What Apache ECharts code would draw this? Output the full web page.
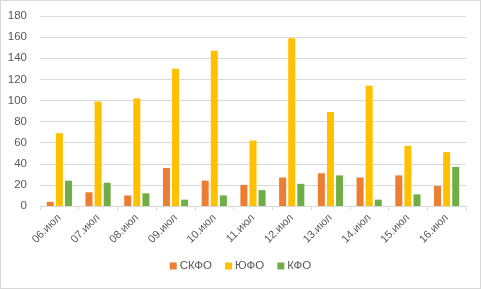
<!DOCTYPE html>
<html>
<head>
<meta charset="utf-8">
<script src="https://cdn.jsdelivr.net/npm/echarts@6/dist/echarts.min.js"></script>
<style>
  html, body { margin: 0; padding: 0; background: #fff; }
  #chart { width: 479px; height: 287px; border: 1px solid #d9d9d9; }
</style>
</head>
<body>
<div id="chart"></div>
<script>
// дни (ось X)
var days = ['06.июл', '07.июл', '08.июл', '09.июл', '10.июл', '11.июл',
            '12.июл', '13.июл', '14.июл', '15.июл', '16.июл'];

// значения по округам
var skfo = [4, 13, 10, 36, 24, 20, 27, 31, 27, 29, 19];
var yufo = [69, 99, 102, 130, 147, 62, 159, 89, 114, 57, 51];
var kfo  = [24, 22, 12, 6, 10, 15, 21, 29, 6, 11, 37];

var seriesNames = ['СКФО', 'ЮФО', 'КФО'];
var colors = ['#ED7D31', '#FFC000', '#70AD47'];

var myChart = echarts.init(document.getElementById('chart'));

function bar(name, data, color) {
    return {
        name: name,
        type: 'bar',
        data: data,
        barWidth: 7,
        barGap: '30%',
        itemStyle: { color: color },
        animation: false
    };
}

var option = {
    textStyle: { fontFamily: 'Liberation Sans, Arial, sans-serif', color: '#595959' },
    grid: { left: 39, right: 14, top: 15, bottom: 82 },
    legend: {
        bottom: 11,
        left: 'center',
        itemWidth: 7,
        itemHeight: 7,
        itemGap: 13,
        icon: 'rect',
        textStyle: { fontSize: 11.5, color: '#595959', padding: [0, 0, 0, -2] },
        data: seriesNames
    },
    xAxis: {
        type: 'category',
        data: days,
        axisLine: { lineStyle: { color: '#d9d9d9' } },
        axisTick: { show: true, alignWithLabel: false, length: 4, lineStyle: { color: '#d9d9d9' } },
        axisLabel: { rotate: 45, fontSize: 11, color: '#595959', margin: 10, interval: 0 }
    },
    yAxis: {
        type: 'value',
        min: 0,
        max: 180,
        interval: 20,
        axisLine: { show: false },
        axisTick: { show: false },
        axisLabel: { fontSize: 11.5, color: '#595959', margin: 13 },
        splitLine: { lineStyle: { color: '#d9d9d9' } }
    },
    series: [
        bar(seriesNames[0], skfo, colors[0]),
        bar(seriesNames[1], yufo, colors[1]),
        bar(seriesNames[2], kfo, colors[2])
    ]
};

myChart.setOption(option);
</script>
</body>
</html>
